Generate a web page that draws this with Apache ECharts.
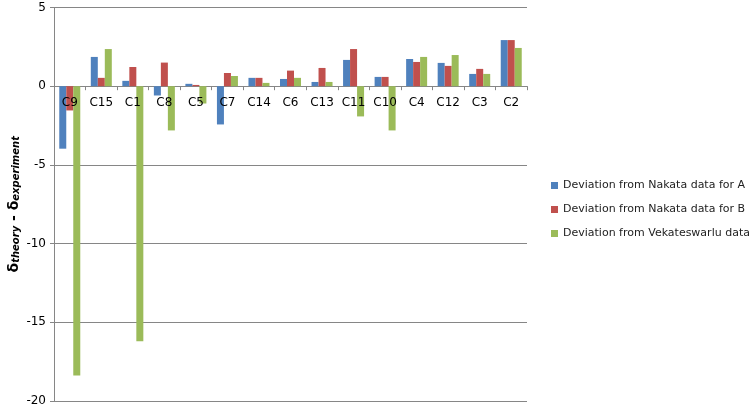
<!DOCTYPE html>
<html>
<head>
<meta charset="utf-8">
<script src="https://cdn.jsdelivr.net/npm/echarts@6/dist/echarts.min.js"></script>
<style>
html,body{margin:0;padding:0;background:#fff;}
#main{width:750px;height:417px;}
</style>
</head>
<body>
<div id="main"></div>
<script>
// 类别与三组偏差数据
var categories = ['C9','C15','C1','C8','C5','C7','C14','C6','C13','C11','C10','C4','C12','C3','C2'];
var nakataA = [-3.97, 1.86, 0.34, -0.59, 0.15, -2.43, 0.53, 0.46, 0.27, 1.67, 0.59, 1.73, 1.48, 0.78, 2.93];
var nakataB = [-1.54, 0.53, 1.22, 1.50, 0.08, 0.84, 0.53, 0.99, 1.16, 2.36, 0.59, 1.54, 1.29, 1.10, 2.93];
var vekat = [-18.38, 2.36, -16.2, -2.81, -1.10, 0.65, 0.21, 0.53, 0.27, -1.92, -2.81, 1.86, 1.98, 0.78, 2.43];
var seriesNames = ['Deviation from Nakata data for A', 'Deviation from Nakata data for B', 'Deviation from Vekateswarlu data'];

var font = 'DejaVu Sans';
var gridTop = 7.5, gridBottom = 16;
var plotH = 417 - gridTop - gridBottom;
// 类别标签放在零线下方（零线距底部的距离）
var zeroOffset = -(plotH * 20 / 25);

var myChart = echarts.init(document.getElementById('main'));
var option = {
    animation: false,
    color: ['#4F81BD', '#C0504D', '#9BBB59'],
    textStyle: { fontFamily: font },
    grid: { left: 54, right: 223, top: gridTop, bottom: gridBottom, outerBoundsMode: 'none' },
    legend: {
        orient: 'vertical',
        left: 546,
        top: 175,
        itemWidth: 7,
        itemHeight: 7,
        itemGap: 13,
        icon: 'rect',
        textStyle: { fontSize: 11, color: '#222', fontFamily: font },
        data: seriesNames
    },
    xAxis: [{
        type: 'category',
        data: categories,
        axisLine: { onZero: true, lineStyle: { color: '#868686' } },
        axisTick: { show: true, length: 4, lineStyle: { color: '#868686' } },
        axisLabel: { show: false }
    }, {
        type: 'category',
        data: categories,
        position: 'bottom',
        offset: zeroOffset,
        z: 10,
        axisLine: { show: false, onZero: false },
        axisTick: { show: false },
        axisLabel: { color: '#000', fontSize: 12, margin: 11, fontFamily: font, interval: 0 }
    }],
    yAxis: {
        type: 'value',
        min: -20,
        max: 5,
        interval: 5,
        name: '{b|δ}{s|theory}{b| - δ}{s|experiment}',
        nameLocation: 'middle',
        nameGap: 33,
        nameMoveOverlap: false,
        nameRotate: 90,
        nameTextStyle: {
            rich: {
                b: { fontSize: 14, fontWeight: 'bold', color: '#000', fontFamily: font, verticalAlign: 'bottom', lineHeight: 16 },
                s: { fontSize: 10, fontWeight: 'bold', fontStyle: 'italic', color: '#000', fontFamily: font, verticalAlign: 'bottom', lineHeight: 13 }
            }
        },
        axisLine: { show: true, lineStyle: { color: '#868686' } },
        axisTick: { show: true, length: 4, lineStyle: { color: '#868686' } },
        axisLabel: { color: '#000', fontSize: 12, margin: 8, fontFamily: font },
        splitLine: { show: true, lineStyle: { color: '#868686', width: 1 } }
    },
    series: [
        { name: seriesNames[0], type: 'bar', data: nakataA, barWidth: 7, barGap: '0%' },
        { name: seriesNames[1], type: 'bar', data: nakataB, barWidth: 7, barGap: '0%' },
        { name: seriesNames[2], type: 'bar', data: vekat, barWidth: 7, barGap: '0%' }
    ]
};
myChart.setOption(option);
</script>
</body>
</html>
